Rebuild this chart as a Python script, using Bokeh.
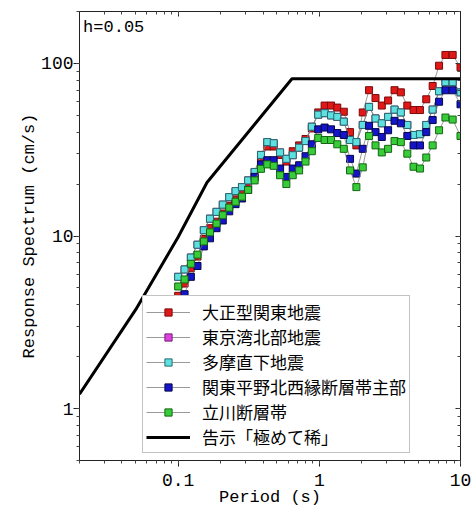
from bokeh.plotting import figure
from bokeh.models import LogAxis, LogTicker, Range1d, Label, NumeralTickFormatter
from bokeh.embed import file_html
from bokeh.resources import INLINE

# Periods (s)
periods = [0.1, 0.111, 0.123, 0.137, 0.152, 0.168, 0.187, 0.207, 0.23, 0.255,
           0.283, 0.313, 0.348, 0.386, 0.428, 0.475, 0.527, 0.584, 0.648, 0.719,
           0.798, 0.885, 0.982, 1.09, 1.21, 1.34, 1.49, 1.65, 1.83, 2.03,
           2.25, 2.5, 2.77, 3.07, 3.41, 3.78, 4.2, 4.65, 5.16, 5.72,
           6.35, 7.05, 7.82, 8.8, 10.0]

# Response spectra (cm/s)
taisho = [4.5, 5.3, 6.5, 7.6, 9.6, 11.1, 12.1, 13.5, 15.0, 16.3,
          17.8, 19.8, 22.0, 27.5, 33.0, 33.0, 29.5, 27.0, 31.0, 33.5,
          36.5, 42.0, 52.0, 57.0, 57.0, 55.5, 52.5, 40.0, 33.5, 52.0,
          70.0, 63.0, 57.0, 61.0, 70.0, 68.0, 57.0, 53.7, 53.7, 62.0,
          74.0, 97.0, 112.0, 112.0, 95.0]
tokyo_bay = [5.8, 6.4, 7.5, 8.9, 10.8, 12.6, 13.8, 15.2, 16.8, 18.2,
             19.2, 21.0, 23.5, 29.5, 35.0, 34.5, 30.5, 28.0, 29.4, 32.5,
             35.5, 43.0, 50.5, 51.5, 50.0, 49.0, 46.0, 36.0, 35.0, 44.0,
             56.0, 48.0, 45.0, 49.0, 54.0, 52.0, 44.0, 38.5, 38.9, 44.0,
             54.0, 69.0, 78.0, 78.0, 68.0]
tama = [5.8, 6.4, 7.5, 8.9, 10.8, 12.6, 13.8, 15.2, 16.8, 18.2,
        19.2, 21.0, 23.5, 29.5, 35.0, 34.5, 30.5, 28.0, 29.4, 32.5,
        35.5, 43.0, 50.5, 51.5, 50.0, 49.0, 46.0, 36.0, 35.0, 44.0,
        56.0, 48.0, 45.0, 49.0, 54.0, 52.0, 44.0, 38.5, 38.9, 44.0,
        54.0, 69.0, 78.0, 78.0, 68.0]
kanto_nw = [4.0, 4.6, 5.8, 6.7, 8.7, 9.7, 11.1, 12.3, 13.9, 15.3,
            16.5, 18.5, 22.0, 26.0, 27.5, 27.5, 24.6, 22.0, 24.6, 25.7,
            29.0, 34.0, 41.5, 42.5, 41.5, 39.5, 38.5, 28.0, 23.0, 32.0,
            43.5, 40.0, 37.5, 41.0, 46.5, 45.0, 38.0, 33.5, 33.5, 40.0,
            47.0, 60.0, 69.9, 69.9, 58.0]
tachikawa = [5.1, 5.6, 6.9, 7.8, 9.3, 10.5, 11.8, 13.2, 14.6, 15.8,
             16.9, 18.5, 21.0, 24.5, 26.0, 25.5, 22.5, 20.0, 22.5, 24.0,
             27.0, 31.0, 37.0, 36.0, 36.0, 34.0, 32.0, 24.0, 19.2, 25.0,
             38.0, 33.5, 30.5, 32.0, 35.5, 35.0, 30.0, 25.2, 24.6, 28.5,
             33.5, 41.0, 48.6, 47.3, 38.0]

# Notification spectrum "extremely rare"
notif_T = [0.02, 0.05, 0.1, 0.16, 0.64, 10.0]
notif_V = [1.21, 3.74, 9.87, 20.4, 81.5, 81.5]

series = [
    ("大正型関東地震", taisho, "#e01818", "#7a0a0a"),
    ("東京湾北部地震", tokyo_bay, "#e040e0", "#702070"),
    ("多摩直下地震", tama, "#5ee0e0", "#2a6a70"),
    ("関東平野北西縁断層帯主部", kanto_nw, "#1414c8", "#06064a"),
    ("立川断層帯", tachikawa, "#38cc38", "#146614"),
]

MONO = "Liberation Mono"
CJK = "Noto Sans CJK JP"

p = figure(x_axis_type="log", y_axis_type="log",
           x_range=Range1d(0.02, 10), y_range=Range1d(0.5, 200),
           frame_width=381, frame_height=449,
           min_border_left=79, min_border_right=13,
           min_border_top=11, min_border_bottom=47,
           output_backend="svg", toolbar_location=None)

p.xgrid.visible = False
p.ygrid.visible = False
p.outline_line_color = "#222222"
p.outline_line_width = 1
p.background_fill_color = "white"
p.border_fill_color = "white"

for ax in (p.xaxis[0], p.yaxis[0]):
    ax.ticker = LogTicker(num_minor_ticks=10)
    ax.formatter = NumeralTickFormatter(format="0.[00]")
    ax.major_tick_out = 6
    ax.major_tick_in = 0
    ax.minor_tick_out = 3
    ax.minor_tick_in = 0
    ax.axis_line_color = "#222222"
    ax.major_tick_line_color = "#222222"
    ax.minor_tick_line_color = "#444444"
    ax.major_label_text_font = MONO
    ax.major_label_text_font_size = "18px"
    ax.major_label_text_color = "black"
    ax.axis_label_text_font = MONO
    ax.axis_label_text_font_size = "17px"
    ax.axis_label_text_font_style = "normal"
    ax.axis_label_text_color = "black"

p.xaxis.major_label_standoff = 7
p.yaxis.major_label_standoff = 0
p.xaxis.axis_label = "Period (s)"
p.xaxis.axis_label_standoff = -1
p.yaxis.axis_label = "Response Spectrum (cm/s)"
p.yaxis.axis_label_standoff = -1

for side in ("above", "right"):
    ax = LogAxis(ticker=LogTicker(num_minor_ticks=10))
    ax.major_tick_out = 0
    ax.major_tick_in = 5
    ax.minor_tick_out = 0
    ax.minor_tick_in = 3
    ax.major_label_text_font_size = "1px"
    ax.major_label_text_alpha = 0
    ax.major_label_standoff = 0
    ax.axis_line_color = "#222222"
    ax.major_tick_line_color = "#222222"
    ax.minor_tick_line_color = "#444444"
    p.add_layout(ax, side)

for name, vals, fc, lc in series:
    p.line(periods, vals, line_color="#808080", line_width=0.8, legend_label=name)
    p.scatter(periods, vals, marker="square", size=7, fill_color=fc,
              line_color=lc, line_width=1, legend_label=name)

p.line(notif_T, notif_V, line_color="black", line_width=3, legend_label="告示「極めて稀」")

p.add_layout(Label(x=0.0212, y=184, text="h=0.05", text_font=MONO,
                   text_font_size="17px", text_baseline="top", text_color="black"))

lg = p.legend[0]
lg.location = (63, 7)
lg.label_text_font = CJK
lg.label_text_font_size = "17px"
lg.label_text_color = "black"
lg.glyph_width = 44
lg.glyph_height = 18
lg.label_height = 18
lg.spacing = 0
lg.padding = 3
lg.margin = 0
lg.label_standoff = 12
lg.border_line_color = "#888888"
lg.border_line_width = 1
lg.background_fill_alpha = 1.0

open("out.html", "w").write(file_html(p, INLINE))
